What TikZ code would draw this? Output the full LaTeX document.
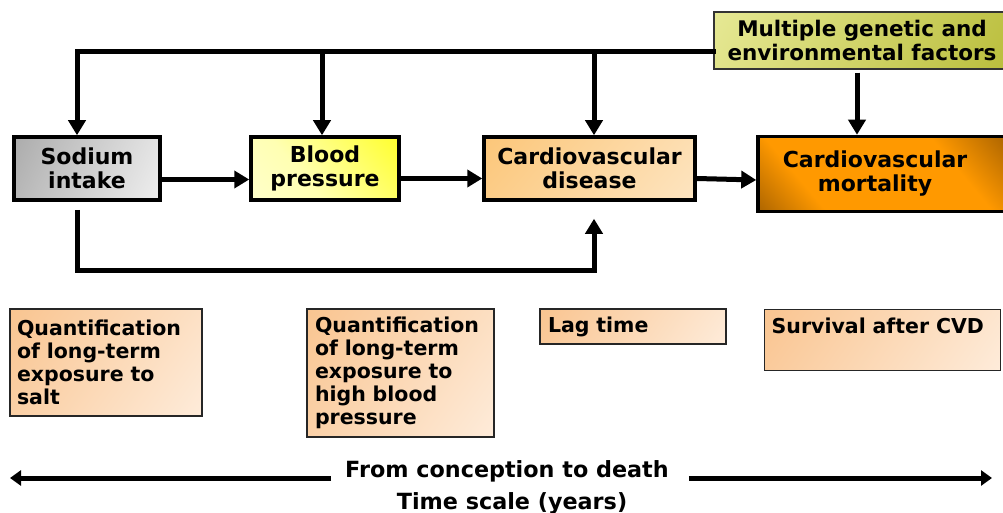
\documentclass[tikz,border=0pt]{standalone}
\usepackage{fontspec}
\setmainfont{DejaVu Sans}
\usetikzlibrary{arrows.meta}
\definecolor{cvdA}{HTML}{FBC06A}
\definecolor{cvdB}{HTML}{FEEBD0}
\definecolor{mortD}{HTML}{5E3300}
\definecolor{mortO}{HTML}{FF9900}
\definecolor{multA}{HTML}{F0F2A8}
\definecolor{multB}{HTML}{B0B428}
\definecolor{lowA}{HTML}{F8BC80}
\definecolor{lowB}{HTML}{FFF4EA}
\pgfdeclarehorizontalshading{sodsh}{100bp}{color(0bp)=(black!40); color(35bp)=(black!25); color(100bp)=(white)}
\pgfdeclarehorizontalshading{bpsh}{100bp}{color(0bp)=(yellow!15); color(40bp)=(yellow!30); color(100bp)=(yellow)}
\pgfdeclarehorizontalshading{cvdsh}{100bp}{color(0bp)=(cvdA); color(100bp)=(cvdB)}
\pgfdeclarehorizontalshading{mortsh}{100bp}{color(0bp)=(mortD); color(30bp)=(mortO); color(67bp)=(mortO); color(100bp)=(mortD)}
\pgfdeclarehorizontalshading{multsh}{100bp}{color(0bp)=(multA); color(100bp)=(multB)}
\pgfdeclarehorizontalshading{lowsh}{100bp}{color(0bp)=(lowA); color(100bp)=(lowB)}
\begin{document}
\begin{tikzpicture}[x=1pt,y=-1pt,
  every node/.style={font=\fontsize{22}{24}\selectfont\bfseries, inner sep=0pt, text=black},
  mainbox/.style={draw=black, line width=3.5pt, shade, align=center},
  lowbox/.style={draw=black!85, line width=1.4pt, shade, shading=lowsh, shading angle=-35, align=left,
     font=\fontsize{20.5}{23}\selectfont\bfseries},
  conn/.style={line width=5pt, line cap=rect},
  arr/.style={line width=5pt, -{Triangle[length=15pt,width=17pt]}},
  tarr/.style={line width=5pt, -{Triangle[length=11pt,width=15pt]}}
]
\useasboundingbox (0,0) rectangle (1003,513);

% main boxes
\node[mainbox, shading=sodsh, shading angle=-25, minimum width=146pt, minimum height=63pt] (sod) at (87,168.5) {Sodium\\intake};
\node[mainbox, shading=bpsh, shading angle=40, minimum width=148pt, minimum height=63pt] (bp) at (325,168.5) {Blood\\pressure};
\node[mainbox, shading=cvdsh, shading angle=-40, minimum width=211pt, minimum height=63pt] (cvd) at (589.5,168.5) {Cardiovascular\\disease};
\node[mainbox, shading=mortsh, shading angle=40, minimum width=254pt, minimum height=75pt] (mort) at (885,174)
  {\hspace*{-20pt}Cardiovascular\\\hspace*{-20pt}mortality};
\node[draw=black!80, line width=1.4pt, shade, shading=multsh, shading angle=-30, align=center,
      font=\fontsize{21.5}{24}\selectfont\bfseries,
      minimum width=296pt, minimum height=57pt] (mult) at (862,40.5) {Multiple genetic and\\environmental factors};

% lower boxes
\node[lowbox, text width=178pt, inner xsep=7pt, minimum height=107pt] (q1) at (106,362.5)
  {Quantification\\of long-term\\exposure to\\salt};
\node[lowbox, text width=171pt, inner xsep=8pt, minimum height=128pt] (q2) at (400.5,373)
  {Quantification\\of long-term\\exposure to\\high blood\\pressure};
\node[lowbox, text width=170pt, inner xsep=8pt, minimum height=35pt] (lag) at (633,326.5) {Lag time};
\node[lowbox, text width=222pt, inner xsep=7pt, text height=24pt, text depth=37pt, anchor=north west] (surv) at (764,309) {Survival after CVD};

% top feedback lines
\coordinate (top) at (77,52);
\draw[conn] (mult.west |- top) -- (top);
\draw[arr] (top) -- ([xshift=-10pt]sod.north);
\draw[arr] ([xshift=-3pt]bp.north |- top) -- ([xshift=-3pt]bp.north);
\draw[arr] ([xshift=4.5pt]cvd.north |- top) -- ([xshift=4.5pt]cvd.north);
\draw[arr] ([xshift=-5pt,yshift=-3pt]mult.south) -- ([xshift=-5pt]mult.south |- mort.north);

% chain arrows
\draw[arr] ([yshift=-11pt]sod.east) -- ([yshift=-11pt]bp.west);
\draw[arr] ([yshift=-10pt]bp.east) -- ([yshift=-10pt]cvd.west);
\draw[arr] ([yshift=-10pt]cvd.east) -- ([yshift=-6pt]mort.west);

% bypass from sodium to CVD
\coordinate (low) at (77,270);
\draw[arr] ([xshift=-10pt,yshift=-8pt]sod.south) -- (low) -- ([xshift=4.5pt]cvd.south |- low) -- ([xshift=4.5pt,yshift=-17pt]cvd.south);

% time scale
\node[font=\fontsize{22.3}{24}\selectfont\bfseries] (from) at (507,471) {From conception to death};
\node[font=\fontsize{22.3}{24}\selectfont\bfseries] (years) at (512,503) {Time scale (years)};
\coordinate (la) at (10,478);
\coordinate (ra) at (992,478);
\draw[tarr] ([xshift=-14pt]from.west |- la) -- (la);
\draw[tarr] ([xshift=20pt]from.east |- ra) -- (ra);
\end{tikzpicture}
\end{document}
